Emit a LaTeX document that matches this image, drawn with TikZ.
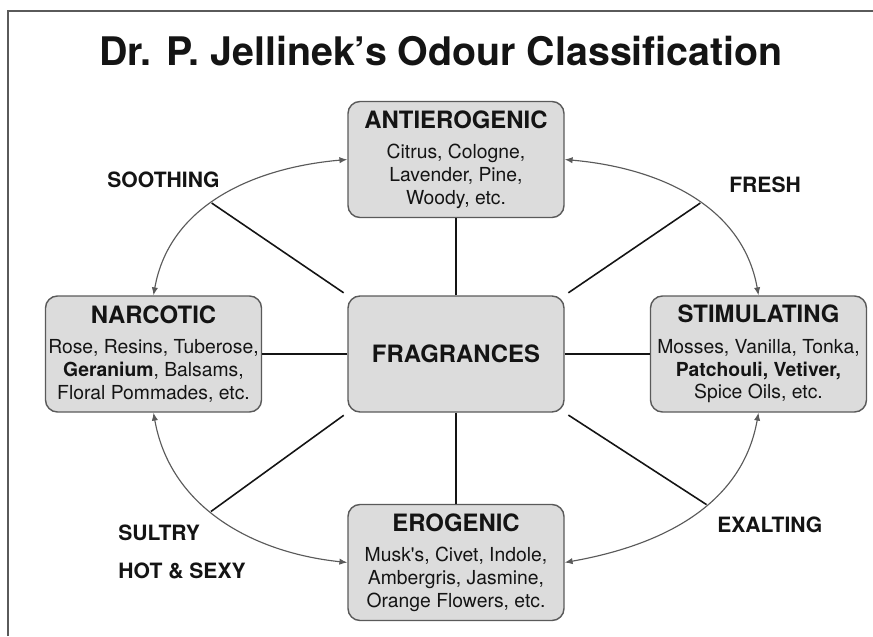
\documentclass[tikz,border=0pt]{standalone}
\usepackage{fontspec}
\setmainfont{TeX Gyre Heros}
\usetikzlibrary{positioning,arrows.meta}

\definecolor{boxgray}{HTML}{DCDCDC}
\definecolor{edgegray}{HTML}{5A5A5A}
\definecolor{ink}{HTML}{141414}

\tikzset{
  odourbox/.style={draw=edgegray, fill=boxgray, rounded corners=0.24cm, line width=0.8pt,
    minimum width=4.32cm, minimum height=2.32cm, inner xsep=1pt, align=center, text=ink,
    font=\fontsize{11}{13}\selectfont},
  mood/.style={font=\fontsize{12}{14}\selectfont\bfseries, text=ink, anchor=base west, inner sep=0pt},
  link/.style={line width=0.9pt, draw=ink},
  ring/.style={{Latex[length=4.5pt,width=3.6pt]}-{Latex[length=4.5pt,width=3.6pt]}, line width=0.65pt, draw=edgegray},
}
\newcommand{\odourhead}[1]{{\fontsize{13.6}{15}\selectfont\bfseries #1}\\[4.5pt]}

\begin{document}
\begin{tikzpicture}[node distance=6.05cm]
\useasboundingbox (0,0) rectangle (17.46,12.72);
\draw[edgegray, line width=1pt] (0.16,0) -- (0.16,12.5) -- (17.46,12.5);

\node (title) [anchor=base, font=\fontsize{22.4}{26}\selectfont\bfseries, text=ink] at (8.82,11.4) {Dr. P. Jellinek’s Odour Classification};

% the five groups
\node (frag) [odourbox] at (9.12,5.64) {\fontsize{13.6}{15}\selectfont\bfseries FRAGRANCES};
\node (narc) [odourbox, left of=frag] {\odourhead{NARCOTIC}Rose, Resins, Tuberose,\\\textbf{Geranium}, Balsams,\\Floral Pommades, etc.};
\node (stim) [odourbox, right of=frag] {\odourhead{STIMULATING}Mosses, Vanilla, Tonka,\\\textbf{Patchouli, Vetiver,}\\Spice Oils, etc.};
\node (anti) [odourbox, above of=frag, node distance=3.89cm] {\odourhead{ANTIEROGENIC}Citrus, Cologne,\\Lavender, Pine,\\Woody, etc.};
\node (ero) [odourbox, below of=frag, node distance=4.17cm] {\odourhead{EROGENIC}Musk\textquotesingle s, Civet, Indole,\\Ambergris, Jasmine,\\Orange Flowers, etc.};

\draw[link] (frag) -- (anti);
\draw[link] (frag) -- (narc);
\draw[link] (frag) -- (stim);
\draw[link] (frag) -- (ero);

% outer ring
\draw[ring] (narc.north) to[out=80,in=185] coordinate[pos=0.45] (sooth) (anti.west);
\draw[ring] (anti.east) to[out=-5,in=100] coordinate[pos=0.55] (fresh) (stim.north);
\draw[ring] (stim.south) to[out=-100,in=10] coordinate[pos=0.42] (exalt) (ero.east);
\draw[ring] (narc.south) to[out=-80,in=174] coordinate[pos=0.45] (sultry) (ero.west);

\draw[link, shorten <=2.5pt] (frag.north west) -- (sooth);
\draw[link, shorten <=2.5pt] (frag.north east) -- (fresh);
\draw[link, shorten <=2.5pt] (frag.south east) -- (exalt);
\draw[link, shorten <=2.5pt] (frag.south west) -- (sultry);

\node (soothing) [mood] at (2.14,8.98) {SOOTHING};
\node (freshlbl) [mood] at (14.58,8.86) {FRESH};
\node (sultrylbl) [mood] at (2.36,1.92) {SULTRY};
\node (hotsexy) [mood] at (2.36,1.16) {HOT \& SEXY};
\node (exalting) [mood] at (14.34,2.08) {EXALTING};

\end{tikzpicture}
\end{document}
